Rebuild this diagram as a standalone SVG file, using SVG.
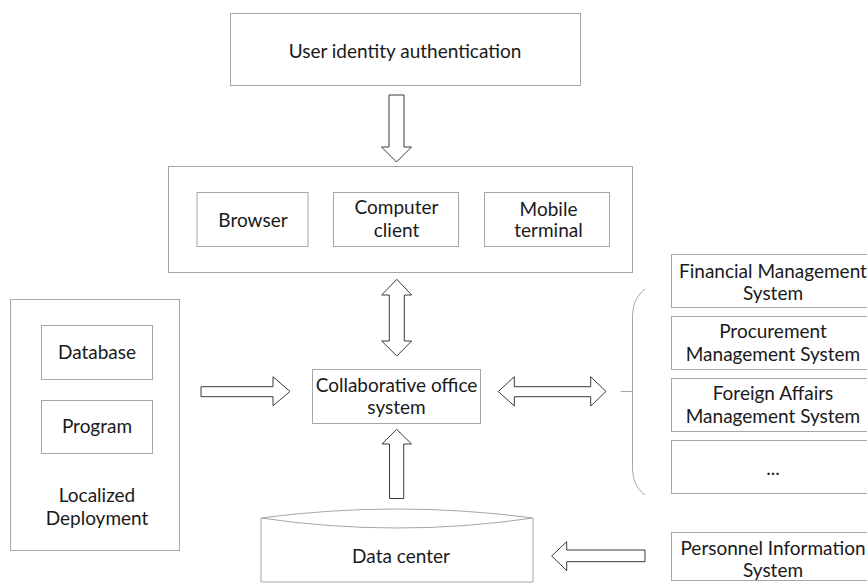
<svg xmlns="http://www.w3.org/2000/svg" width="867" height="583" viewBox="0 0 867 583">
  <style>
    .box { fill: #ffffff; stroke: #a6a6a6; stroke-width: 1; }
    .arrow { fill: #ffffff; stroke: #3a3a3a; stroke-width: 1; stroke-linejoin: miter; }
    .brace { fill: none; stroke: #a6a6a6; stroke-width: 1; }
    text { font-family: Lato, "Noto Sans", "Liberation Sans", sans-serif; font-size: 19px; fill: #1a1a1a; text-anchor: middle; }
  </style>
  <rect width="867" height="583" fill="#ffffff"/>

  <g id="auth">
    <rect class="box" x="230.5" y="13.5" width="350" height="72"/>
    <text x="405" y="58">User identity authentication</text>
  </g>

  <g id="clients">
    <rect class="box" x="168.5" y="166.5" width="464" height="106"/>
    <g id="browser">
      <rect class="box" x="197" y="192.5" width="111" height="54"/>
      <text x="253" y="227">Browser</text>
    </g>
    <g id="computer-client">
      <rect class="box" x="333.5" y="192.5" width="125" height="54"/>
      <text x="396.5" y="214">Computer</text>
      <text x="396.5" y="237">client</text>
    </g>
    <g id="mobile-terminal">
      <rect class="box" x="484.5" y="192.5" width="125" height="54"/>
      <text x="548.5" y="216">Mobile</text>
      <text x="548.5" y="237">terminal</text>
    </g>
  </g>

  <g id="local-deployment">
    <rect class="box" x="10.5" y="299.5" width="169" height="251"/>
    <g id="database">
      <rect class="box" x="41.5" y="325.5" width="111" height="54"/>
      <text x="97" y="359">Database</text>
    </g>
    <g id="program">
      <rect class="box" x="41.5" y="400.5" width="111" height="53"/>
      <text x="97" y="433">Program</text>
    </g>
    <text x="97" y="502">Localized</text>
    <text x="97" y="525">Deployment</text>
  </g>

  <g id="collab">
    <rect class="box" x="312.5" y="369.5" width="168" height="54"/>
    <text x="396.5" y="392">Collaborative office</text>
    <text x="396.5" y="414">system</text>
  </g>

  <g id="data-center">
    <path class="box" d="M261,518 L261,582 L533,582 L533,518 Q397,500 261,518 Z"/>
    <path class="brace" d="M261,518 Q397,538 533,518"/>
    <text x="401" y="563">Data center</text>
  </g>

  <g id="financial">
    <rect class="box" x="671.5" y="254.5" width="210" height="53"/>
    <text x="773" y="278">Financial Management</text>
    <text x="773" y="300">System</text>
  </g>
  <g id="procurement">
    <rect class="box" x="671.5" y="316.5" width="210" height="53"/>
    <text x="773" y="338">Procurement</text>
    <text x="773" y="361">Management System</text>
  </g>
  <g id="foreign-affairs">
    <rect class="box" x="671.5" y="378.5" width="210" height="53"/>
    <text x="773" y="400">Foreign Affairs</text>
    <text x="773" y="423">Management System</text>
  </g>
  <g id="others">
    <rect class="box" x="671.5" y="440.5" width="210" height="53"/>
    <text x="773" y="475">...</text>
  </g>
  <g id="personnel">
    <rect class="box" x="671.5" y="532.5" width="210" height="48"/>
    <text x="773" y="555">Personnel Information</text>
    <text x="773" y="577">System</text>
  </g>

  <g id="connectors">
    <!-- authentication down to clients -->
    <polygon class="arrow" points="389,95 404,95 404,147 411.5,147 396.5,162 381.5,147 389,147"/>
    <!-- clients <-> collaborative office -->
    <polygon class="arrow" points="396.8,279.3 411.7,295 404.3,295 404.3,341 411.7,341 396.8,356 381.7,341 389.3,341 389.3,295 381.7,295"/>
    <!-- data center up to collaborative office -->
    <polygon class="arrow" points="396.7,429.3 411.5,444 403.7,444 403.7,498.5 389.5,498.5 389.5,444 382,444"/>
    <!-- local deployment to collaborative office -->
    <polygon class="arrow" points="201,386.7 273,386.7 273,376.7 290,391.5 273,405.7 273,396.7 201,396.7"/>
    <!-- collaborative office <-> business systems -->
    <polygon class="arrow" points="498.3,391.5 514.3,376.7 514.3,386.7 590.7,386.7 590.7,376.7 606,391.5 590.7,406 590.7,396.7 514.3,396.7 514.3,406"/>
    <!-- personnel system to data center -->
    <polygon class="arrow" points="551.7,556 566.7,541.7 566.7,550 645,550 645,561.7 566.7,561.7 566.7,570.7"/>
    <!-- brace grouping the business systems -->
    <path class="brace" d="M645,289 C636,296 632.5,305 632.5,318 L632.5,466 C632.5,480 636,488 645,495"/>
    <path class="brace" d="M620.7,391.5 H632.5"/>
  </g>
</svg>
